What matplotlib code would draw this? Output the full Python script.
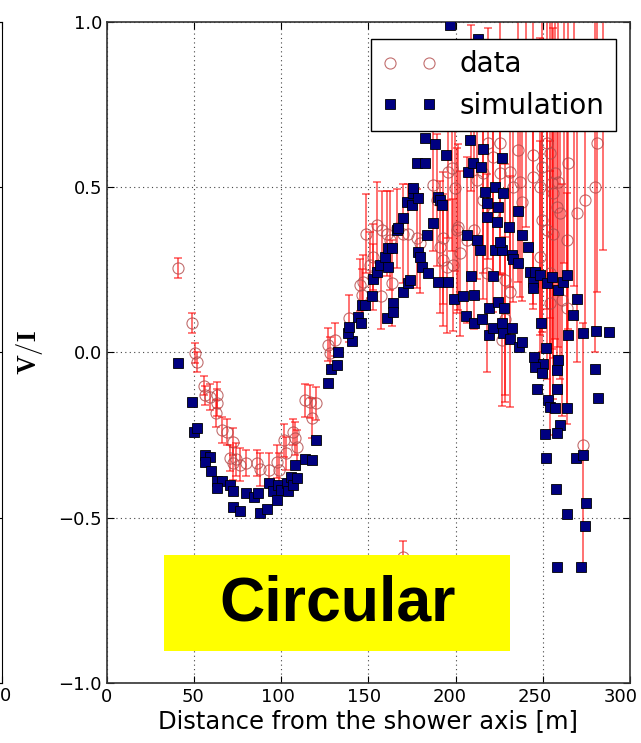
import matplotlib
matplotlib.use('Agg')
import matplotlib.pyplot as plt
import matplotlib.transforms as mtransforms
from matplotlib.patches import Rectangle

# simulation (navy squares)
sim_x = [40.9, 48.6, 50.1, 51.5, 56.2, 59.1, 56.2, 59.5, 62.9, 65.8, 62.9, 70.6,
         72.5, 72.5, 76.3, 79.7, 84.5, 86.8, 87.8, 91.6, 93.1, 95.4, 97.3, 98.3,
         99.6, 103.0, 104.0, 105.6, 106.9, 107.9, 108.8, 113.6, 117.4, 119.7, 127.0,
         128.3, 131.8, 132.7, 140.4, 138.5, 139.0, 144.2, 145.5, 146.1, 148.0, 151.8,
         152.4, 154.7, 156.6, 159.5, 161.4, 161.4, 163.4, 160.8, 164.3, 164.3, 166.2,
         167.1, 170.0, 170.0, 171.9, 172.8, 173.8, 174.8, 175.7, 175.7, 177.6, 178.6,
         178.6, 179.6, 180.5, 182.4, 183.4, 184.0, 186.9, 188.2, 190.0, 191.0, 192.0,
         189.7, 195.8, 194.5, 199.0, 196.8, 213.0, 182.4, 208.3, 215.5, 226.4, 207.3,
         210.2, 214.4, 216.9, 222.6, 227.4, 217.8, 224.5, 217.8, 223.6, 235.6, 230.8,
         237.9, 206.3, 212.0, 214.0, 222.6, 226.4, 225.5, 232.1, 233.1, 236.0, 241.7,
         242.7, 245.6, 244.2, 244.2, 248.4, 252.3, 255.1, 259.0, 261.8, 263.8, 269.5,
         267.5, 264.7, 273.3, 280.5, 288.2, 204.0, 210.7, 208.6, 221.3, 206.0, 210.4,
         215.0, 219.3, 224.5, 227.8, 219.3, 221.6, 226.4, 227.4, 231.2, 232.1, 236.4,
         237.9, 249.2, 251.6, 245.1, 250.3, 245.6, 249.4, 259.0, 258.1, 280.0, 246.5,
         258.1, 253.2, 254.2, 257.0, 263.7, 281.9, 259.9, 258.4, 251.0, 251.9, 268.9,
         272.9, 257.6, 274.8, 263.7, 274.2, 258.1, 271.9]
sim_y = [-0.033, -0.15, -0.24, -0.23, -0.31, -0.315, -0.33, -0.36, -0.39, -0.39, -0.41, -0.40,
         -0.42, -0.467, -0.48, -0.426, -0.438, -0.426, -0.485, -0.475, -0.394, -0.42, -0.446, -0.40,
         -0.416, -0.396, -0.42, -0.376, -0.40, -0.34, -0.38, -0.323, -0.325, -0.265, -0.093,
         -0.05, -0.038, 0.0, 0.036, 0.058, 0.078, 0.108, 0.088, 0.144, 0.144, 0.172,
         0.221, 0.245, 0.265, 0.29, 0.26, 0.315, 0.315, 0.105, 0.149, 0.123, 0.37,
         0.376, 0.406, 0.184, 0.456, 0.209, 0.219, 0.446, 0.482, 0.497, 0.574, 0.467,
         0.305, 0.29, 0.26, 0.572, 0.355, 0.24, 0.391, 0.631, 0.471, 0.461, 0.446,
         0.214, 0.214, 0.598, 0.161, 0.991, 0.948, 0.648, 0.643, 0.615, 0.588, 0.547,
         0.572, 0.562, 0.487, 0.502, 0.482, 0.451, 0.441, 0.411, 0.396, 0.429, 0.381,
         0.356, 0.356, 0.34, 0.31, 0.31, 0.31, 0.335, 0.295, 0.282, 0.27, 0.318,
         0.245, 0.245, 0.214, 0.194, 0.234, 0.211, 0.229, 0.189, 0.214, 0.234, 0.162,
         0.113, 0.053, 0.058, 0.066, 0.063, 0.171, 0.174, 0.231, 0.231, 0.11, 0.088,
         0.1, 0.134, 0.154, 0.134, 0.053, 0.073, 0.088, 0.058, 0.04, 0.075, 0.018,
         0.033, 0.09, 0.013, -0.013, -0.035, -0.043, -0.063, -0.022, -0.053, -0.05, -0.11,
         -0.11, -0.144, -0.166, -0.169, -0.169, -0.139, -0.219, -0.245, -0.248, -0.32, -0.32,
         -0.31, -0.414, -0.456, -0.489, -0.524, -0.648, -0.648]

# measured data (open circles with error bars)
data_x = [40.9, 48.6, 50.5, 51.8, 55.8, 56.2, 59.1, 62.9, 63.3, 62.5, 65.8, 68.7,
          72.5, 70.6, 72.5, 74.0, 76.3, 79.7, 85.9, 87.8, 93.1, 97.3, 98.9, 101.5,
          102.7, 106.9, 107.9, 108.8, 113.6, 116.5, 119.9, 117.4, 127.0, 128.0, 130.8,
          139.0, 146.1, 145.0, 147.1, 150.9, 152.8, 148.6, 154.7, 157.6, 160.8, 162.4,
          163.4, 166.2, 172.8, 177.6, 179.6, 187.2, 189.1, 193.0, 195.0, 197.7, 199.7,
          200.6, 157.2, 152.8, 170.0, 195.8, 201.6, 191.0, 218.7, 221.6, 225.5, 231.2,
          236.0, 237.0, 237.9, 244.6, 249.4, 252.3, 254.2, 244.6, 248.4, 255.1, 256.1,
          249.4, 252.3, 256.1, 263.8, 248.4, 257.0, 258.9, 258.0, 259.9, 264.7, 274.2,
          280.0, 269.5, 280.9, 225.5, 233.1, 215.9, 212.0, 221.6, 215.9, 206.3, 202.5,
          210.7, 217.8, 228.3, 231.2, 254.2, 260.8, 263.8, 226.4, 254.2, 198.7, 193.0,
          272.9, 228.3, 169.6, 209.0, 240.5, 262.0, 268.0, 284.5]
data_y = [0.255, 0.088, -0.002, -0.028, -0.10, -0.13, -0.134, -0.129, -0.152, -0.184, -0.234, -0.24,
          -0.27, -0.32, -0.335, -0.323, -0.34, -0.335, -0.335, -0.353, -0.355, -0.33, -0.355, -0.265,
          -0.305, -0.24, -0.26, -0.285, -0.144, -0.149, -0.154, -0.199, 0.023, -0.002, 0.038,
          0.103, 0.174, 0.204, 0.214, 0.265, 0.229, 0.36, 0.386, 0.37, 0.36, 0.34,
          0.209, 0.376, 0.36, 0.346, 0.33, 0.507, 0.461, 0.346, 0.26, 0.557, 0.497,
          0.37, 0.171, 0.29, 0.36, 0.547, 0.38, 0.32, 0.633, 0.592, 0.542, 0.547,
          0.613, 0.517, 0.456, 0.598, 0.562, 0.633, 0.603, 0.532, 0.502, 0.512, 0.482,
          0.401, 0.371, 0.36, 0.34, 0.29, 0.542, 0.517, 0.441, 0.421, 0.572, 0.461,
          0.502, 0.421, 0.633, 0.633, 0.502, 0.542, 0.522, 0.421, 0.461, 0.34, 0.30,
          0.37, 0.24, 0.22, 0.184, 0.24, 0.159, 0.134, 0.038, 0.149, 0.265, 0.28,
          -0.28, 0.10, -0.62, 0.74, 0.78, 0.72, 0.70, 0.76]
data_err = [0.03, 0.03, 0.03, 0.03, 0.03, 0.03, 0.04, 0.04, 0.04, 0.04, 0.04, 0.04,
            0.04, 0.04, 0.05, 0.05, 0.05, 0.04, 0.04, 0.05, 0.05, 0.05, 0.05, 0.05,
            0.05, 0.04, 0.05, 0.05, 0.05, 0.05, 0.05, 0.06, 0.05, 0.05, 0.05,
            0.07, 0.08, 0.08, 0.08, 0.10, 0.10, 0.12, 0.13, 0.12, 0.13, 0.15,
            0.13, 0.12, 0.15, 0.15, 0.15, 0.20, 0.20, 0.20, 0.20, 0.25, 0.25,
            0.25, 0.10, 0.10, 0.15, 0.20, 0.25, 0.20, 0.35, 0.35, 0.30, 0.35,
            0.40, 0.35, 0.30, 0.45, 0.50, 0.50, 0.50, 0.40, 0.45, 0.50, 0.50,
            0.40, 0.45, 0.50, 0.50, 0.35, 0.50, 0.50, 0.50, 0.50, 0.50, 0.40,
            0.50, 0.45, 0.45, 0.40, 0.35, 0.30, 0.30, 0.30, 0.30, 0.25, 0.25,
            0.30, 0.30, 0.35, 0.35, 0.40, 0.35, 0.35, 0.20, 0.40, 0.20, 0.20,
            0.37, 0.25, 0.05, 0.25, 0.40, 0.45, 0.50, 0.45]

x_ticks = [0, 50, 100, 150, 200, 250, 300]
y_ticks = [-1.0, -0.5, 0.0, 0.5, 1.0]

plt.rcParams['xtick.direction'] = 'in'
plt.rcParams['ytick.direction'] = 'in'
plt.rcParams['xtick.top'] = True
plt.rcParams['ytick.right'] = True
plt.rcParams['xtick.major.size'] = 5
plt.rcParams['ytick.major.size'] = 5
plt.rcParams['mathtext.fontset'] = 'cm'

fig = plt.figure(figsize=(6.41, 7.43), dpi=100)

# edge of the neighbouring panel, mostly cut off
ax0 = fig.add_axes([-0.8, 0.0808, 0.8 + 2.0/641, 0.8896])
ax0.set_xlim(0, 300)
ax0.set_ylim(-1, 1)
ax0.set_xticks(x_ticks)
ax0.set_yticks(y_ticks)
ax0.tick_params(labelbottom=False, labelleft=False)
fig.text(0.0, 0.063, '0', fontsize=13, ha='left', va='center')

ax = fig.add_axes([0.1669, 0.0808, 0.8159, 0.8896])
ax.errorbar(data_x, data_y, yerr=data_err, fmt='none',
            ecolor=(1.0, 0.0, 0.0, 0.6), elinewidth=1.3, capsize=3,
            capthick=1.2, zorder=2)
ax.plot(data_x, data_y, 'o', mfc='none', mec='#b24a4a', ms=8, mew=0.8,
        alpha=0.8, zorder=2, label='data')
ax.plot(sim_x, sim_y, 's', color='#000080', mec='black', mew=0.6, ms=7.5,
        zorder=3, label='simulation')

ax.set_xlim(0, 300)
ax.set_ylim(-1, 1)
ax.set_xticks(x_ticks)
ax.set_yticks(y_ticks)
ax.tick_params(labelsize=13)
# tick labels drift a little left of their ticks in the original
for i, lab in enumerate(ax.get_xticklabels()):
    shift = mtransforms.ScaledTranslation(-1.6 * i / 100, 0, fig.dpi_scale_trans)
    lab.set_transform(lab.get_transform() + shift)
ax.grid(True, linestyle=(0, (1, 3)), color='#444444', linewidth=0.8)
for s in ax.spines.values():
    s.set_linewidth(1.2)
    s.set_color('#333333')
ax.set_xlabel('Distance from the shower axis [m]', fontsize=17.5, labelpad=2)
ax.set_ylabel(r'$\mathbf{V/I}$', fontsize=19)
ax.yaxis.set_label_coords(-0.119, 0.5)

leg = ax.legend(loc='upper right', bbox_to_anchor=(0.973, 0.974), borderaxespad=0,
                numpoints=2, fontsize=20, fancybox=False, framealpha=1,
                edgecolor='black')
leg.get_frame().set_linewidth(1.0)
leg.set_zorder(10)

ax.add_patch(Rectangle((32.7, -0.903), 198.5, 0.29, facecolor='#ffff00',
                       edgecolor='none', zorder=5))
ax.text(132.5, -0.762, 'Circular', fontsize=45, fontweight='bold',
        family='Liberation Sans', ha='center', va='center', zorder=6)

fig.savefig('out.png', dpi=100)
